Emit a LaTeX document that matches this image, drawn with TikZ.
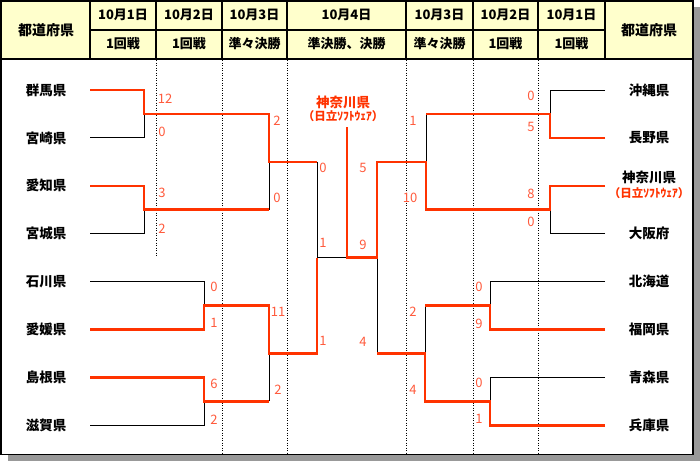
\documentclass[tikz,border=0pt]{standalone}
\usepackage{fontspec}
\setmainfont{Noto Sans CJK JP}
\definecolor{wred}{HTML}{FF3300}
\definecolor{sred}{HTML}{FF5A3C}
\definecolor{hdr}{HTML}{FFFFCC}
\definecolor{shadowgray}{HTML}{999999}
\begin{document}
\begin{tikzpicture}[x=1pt,y=-1pt,
  lose/.style={draw=black,line width=0.9pt},
  win/.style={draw=wred,line width=2.6pt,line join=miter},
  team/.style={font=\bfseries\fontsize{13.5}{14}\selectfont,inner sep=0},
  sub/.style={text=wred,font=\bfseries\fontsize{11.5}{12}\selectfont,inner sep=0},
  score/.style={text=sred,font=\fontsize{13}{14}\selectfont,inner sep=0},
  head/.style={font=\bfseries\fontsize{13}{14}\selectfont,inner sep=0},
  hline/.style={draw=black,line width=2pt},
  dotline/.style={draw=black,line width=0.8pt,dash pattern=on 1pt off 1.5pt}]
\useasboundingbox (0,0) rectangle (700,461);
% shadow and frame
\fill[shadowgray] (8,7) rectangle (700,461);
\filldraw[fill=white,draw=black,line width=1.5pt] (1,0.8) rectangle (693,454.5);
\fill[hdr] (1.8,1.6) rectangle (692.2,59);
% header lines
\draw[hline] (1,59) -- (693,59);
\draw[hline] (90,30) -- (605,30);
\foreach \x in {90,156,222,287,406,473,538,605} \draw[hline] (\x,0.8) -- (\x,59);
% header text
\node[head,font=\bfseries\fontsize{14}{15}\selectfont] (h0) at (46,30) {都道府県};
\node[head,font=\bfseries\fontsize{14}{15}\selectfont] (h9) at (649,30) {都道府県};
\node[head] (d1) at (123,15) {10月1日};
\node[head] (d2) at (189,15) {10月2日};
\node[head] (d3) at (254.5,15) {10月3日};
\node[head] (d4) at (346.5,15) {10月4日};
\node[head] (d5) at (439.5,15) {10月3日};
\node[head] (d6) at (505.5,15) {10月2日};
\node[head] (d7) at (571.5,15) {10月1日};
\node[head] (r1) at (123,44) {1回戦};
\node[head] (r2) at (189,44) {1回戦};
\node[head] (r3) at (254.5,44) {準々決勝};
\node[head] (r4) at (346.5,44) {準決勝、決勝};
\node[head] (r5) at (439.5,44) {準々決勝};
\node[head] (r6) at (505.5,44) {1回戦};
\node[head] (r7) at (571.5,44) {1回戦};
% dotted guides
\draw[dotline] (156,60) -- (156,256);
\foreach \x in {222,287,406,473,538} \draw[dotline] (\x,60) -- (\x,453.5);
% team names
\node[team] (tL1) at (46,90) {群馬県};
\node[team] (tL2) at (46,137.9) {宮崎県};
\node[team] (tL3) at (46,185.8) {愛知県};
\node[team] (tL4) at (46,233.7) {宮城県};
\node[team] (tL5) at (46,281.6) {石川県};
\node[team] (tL6) at (46,329.5) {愛媛県};
\node[team] (tL7) at (46,377.4) {島根県};
\node[team] (tL8) at (46,425.3) {滋賀県};
\node[team] (tR1) at (649,90) {沖縄県};
\node[team] (tR2) at (649,137.9) {長野県};
\node[team] (tR3) at (649,177) {神奈川県};
\node[sub] (tR3s) at (649,193) {（日立ｿﾌﾄｳｪｱ）};
\node[team] (tR4) at (649,233.7) {大阪府};
\node[team] (tR5) at (649,281.6) {北海道};
\node[team] (tR6) at (649,329.5) {福岡県};
\node[team] (tR7) at (649,377.4) {青森県};
\node[team] (tR8) at (649,425.3) {兵庫県};
% champion
\node[team,text=wred] (ch) at (343,102) {神奈川県};
\node[sub] (chs) at (343,116) {（日立ｿﾌﾄｳｪｱ）};
% coordinates
\coordinate (sL1) at (90,90);     \coordinate (sL2) at (90,137.9);
\coordinate (sL3) at (90,185.8);  \coordinate (sL4) at (90,233.7);
\coordinate (sL5) at (90,281.6);  \coordinate (sL6) at (90,329.5);
\coordinate (sL7) at (90,377.4);  \coordinate (sL8) at (90,425.3);
\coordinate (sR1) at (605,90);    \coordinate (sR2) at (605,137.9);
\coordinate (sR3) at (605,185.8); \coordinate (sR4) at (605,233.7);
\coordinate (sR5) at (605,281.6); \coordinate (sR6) at (605,329.5);
\coordinate (sR7) at (605,377.4); \coordinate (sR8) at (605,425.3);
\coordinate (a1) at (144,113.95); \coordinate (a2) at (144,209.75);
\coordinate (b1) at (269,113.95); \coordinate (b2) at (269,209.75);
\coordinate (c1) at (269,161.85); \coordinate (d1) at (317,161.85);
\coordinate (a3) at (204,305.55); \coordinate (a4) at (204,401.35);
\coordinate (b3) at (269,305.55); \coordinate (b4) at (269,401.35);
\coordinate (c2) at (269,353.45); \coordinate (d2) at (317,353.45);
\coordinate (e1) at (317,257.65); \coordinate (f1) at (347,257.65);
\coordinate (top) at (347,127);   \coordinate (g1) at (377,257.65);
\coordinate (d3) at (377,161.85); \coordinate (d4) at (377,353.45);
\coordinate (a5) at (550,113.95); \coordinate (a6) at (550,209.75);
\coordinate (b5) at (426,113.95); \coordinate (b6) at (426,209.75);
\coordinate (c3) at (426,161.85);
\coordinate (a7) at (490,305.55); \coordinate (a8) at (490,401.35);
\coordinate (b7) at (425,305.55); \coordinate (b8) at (425,401.35);
\coordinate (c4) at (425,353.45);
% losing lines
\draw[lose] (sL2) -| (a1);
\draw[lose] (sL4) -| (a2);
\draw[lose] (b2) -- (c1);
\draw[lose] (d1) -- (e1) -- (f1);
\draw[lose] (sL5) -| (a3);
\draw[lose] (sL8) -| (a4);
\draw[lose] (b4) -- (c2);
\draw[lose] (sR1) -| (a5);
\draw[lose] (sR4) -| (a6);
\draw[lose] (b5) -- (c3);
\draw[lose] (sR5) -| (a7);
\draw[lose] (sR7) -| (a8);
\draw[lose] (b7) -- (c4);
\draw[lose] (d4) -- (g1);
% winning lines
\draw[win] (sL1) -| (a1) -- (b1) -- (c1) -- (d1);
\draw[win] (sL3) -| (a2) -- (b2);
\draw[win] (sL6) -| (a3) -- (b3) -- (c2) -- (d2) -- (e1);
\draw[win] (sL7) -| (a4) -- (b4);
\draw[win] (sR2) -| (a5) -- (b5);
\draw[win] (sR3) -| (a6) -- (b6) -- (c3) -- (d3) -- (g1) -- (f1) -- (top);
\draw[win] (sR6) -| (a7) -- (b7);
\draw[win] (sR8) -| (a8) -- (b8) -- (c4) -- (d4);
% scores
\node[score] (s1) at (165,99) {12};
\node[score] (s2) at (162,132) {0};
\node[score] (s3) at (162,193) {3};
\node[score] (s4) at (162,229) {2};
\node[score] (s5) at (277,121) {2};
\node[score] (s6) at (277,198) {0};
\node[score] (s7) at (323,168) {0};
\node[score] (s8) at (323,243) {1};
\node[score] (s9) at (214,287) {0};
\node[score] (s10) at (214,323) {1};
\node[score] (s11) at (214,384) {6};
\node[score] (s12) at (214,420) {2};
\node[score] (s13) at (278,312) {11};
\node[score] (s14) at (278,390) {2};
\node[score] (s15) at (323,341) {1};
\node[score] (s16) at (363,168) {5};
\node[score] (s17) at (363,245) {9};
\node[score] (s18) at (363,342) {4};
\node[score] (s19) at (413,121) {1};
\node[score] (s20) at (410,198) {10};
\node[score] (s21) at (531,96) {0};
\node[score] (s22) at (531,127) {5};
\node[score] (s23) at (531,194) {8};
\node[score] (s24) at (531,222) {0};
\node[score] (s25) at (479,287) {0};
\node[score] (s26) at (479,324) {9};
\node[score] (s27) at (479,383) {0};
\node[score] (s28) at (479,419) {1};
\node[score] (s29) at (413,312) {2};
\node[score] (s30) at (413,390) {4};
\end{tikzpicture}
\end{document}
